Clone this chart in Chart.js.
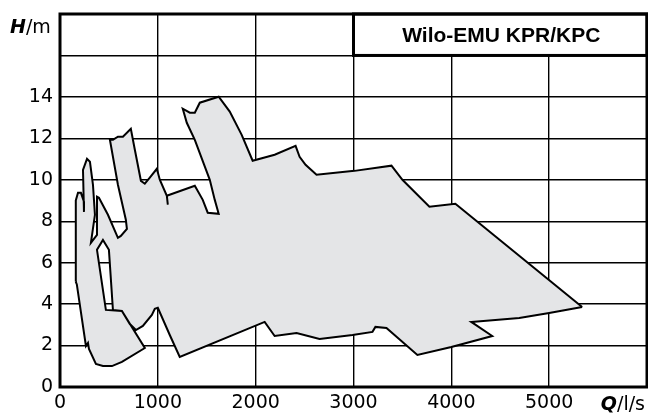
<!DOCTYPE html>
<html>
<head>
<meta charset="utf-8">
<script src="https://cdn.jsdelivr.net/npm/chart.js@4.4.1/dist/chart.umd.min.js"></script>
<style>
    html, body { margin: 0; padding: 0; background: #fff; }
    #wrap { width: 648px; height: 415px; }
</style>
</head>
<body>
<div id="wrap"><canvas id="kennlinie" width="648" height="415"></canvas></div>
<script>
// Datos (Q en l/s, H en m)
// Contorno superior, de izquierda a derecha
var upperQ = [160, 160, 163, 184, 214, 245, 245, 235, 276, 306, 337, 357, 316, 378, 378, 398, 490, 592, 622, 684,
    673, 592, 510, 541, 592, 643, 724, 765, 827, 867, 918, 990, 1020, 1092, 1102, 1092, 1235, 1378, 1459, 1510, 1622, 1582,
    1531, 1378, 1296, 1255, 1327, 1378, 1429, 1622, 1735, 1857, 1969, 2194, 2408, 2449, 2510, 2622, 3010, 3388,
    3500, 3776, 4041, 5337];
var upperH = [5.1, 7.5, 9.0, 9.37, 9.37, 8.94, 8.45, 10.48, 11.01, 10.87, 9.76, 8.31, 6.96, 7.34, 9.18, 9.13, 8.31, 7.2, 7.29, 7.63,
    8.07, 9.76, 11.93, 11.93, 12.08, 12.08, 12.46, 11.45, 9.95, 9.81, 10.1, 10.53, 10.0, 9.23, 8.8, 9.23, 9.47, 9.71, 9.03, 8.41, 8.36, 9.03,
    10.0, 11.93, 12.75, 13.43, 13.24, 13.24, 13.72, 14.01, 13.29, 12.17, 10.92, 11.21, 11.64, 11.11, 10.72, 10.24, 10.43, 10.68,
    10.0, 8.7, 8.84, 3.86];

// Contorno inferior, de izquierda a derecha (incluye la ranura blanca cerca de 400-550 l/s)
var lowerQ = [160, 172, 265, 286, 296, 367, 439, 531, 633, 867, 633, 469, 378, 439, 500, 541, 633, 714, 776, 847, 939, 969,
    1000, 1122, 1224, 2092, 2194, 2418, 2653, 2990, 3194, 3224, 3337, 3653, 4000, 4418, 4204, 4694, 5000, 5337];
var lowerH = [5.1, 4.95, 1.98, 2.13, 1.84, 1.11, 1.01, 1.01, 1.21, 1.88, 3.67, 3.72, 6.62, 7.1, 6.62, 3.72, 3.67, 3.04, 2.75, 2.95, 3.48, 3.77,
    3.82, 2.51, 1.45, 3.14, 2.46, 2.61, 2.32, 2.51, 2.66, 2.9, 2.85, 1.55, 1.93, 2.46, 3.14, 3.33, 3.57, 3.86];

// Ejes
var qTicks = [0, 1000, 2000, 3000, 4000, 5000];
var hTicks = [0, 2, 4, 6, 8, 10, 12, 14];
var qMax = 6000;
var hMax = 18;
var titulo = 'Wilo-EMU KPR/KPC';
var tituloDesdeQ = 3000;
var tituloHastaH = 16;

function puntos(qs, hs) {
    return qs.map(function (q, i) {
        return { x: q, y: hs[i] };
    });
}

// quitar el relleno automatico de las etiquetas para fijar el area del grafico
function sinPadding(s) {
    s.paddingTop = 0;
    s.paddingBottom = 0;
    s.paddingLeft = 0;
    s.paddingRight = 0;
}

// Marco, caja de titulo y nombres de ejes
var marcoPlugin = {
    id: 'marco',
    afterDraw: function (chart) {
        var ctx = chart.ctx;
        var a = chart.chartArea;
        var x = chart.scales.x;
        var y = chart.scales.y;
        ctx.save();

        var bx = x.getPixelForValue(tituloDesdeQ);
        var by = y.getPixelForValue(tituloHastaH);
        ctx.fillStyle = '#fff';
        ctx.fillRect(bx, a.top, a.right - bx, by - a.top);
        ctx.strokeStyle = '#000';
        ctx.lineWidth = 3;
        ctx.strokeRect(bx, a.top, a.right - bx, by - a.top);
        ctx.strokeRect(a.left, a.top, a.right - a.left, a.bottom - a.top);

        ctx.fillStyle = '#000';
        ctx.textAlign = 'center';
        ctx.textBaseline = 'middle';
        ctx.font = 'bold 21px "Liberation Sans"';
        ctx.fillText(titulo, (bx + a.right) / 2 + 1, (a.top + by) / 2 + 1);

        // H/m arriba a la izquierda
        ctx.textAlign = 'left';
        ctx.textBaseline = 'alphabetic';
        ctx.font = 'italic bold 19px "DejaVu Sans"';
        ctx.fillText('H', 10, 33);
        var w = ctx.measureText('H').width;
        ctx.font = '19px "DejaVu Sans"';
        ctx.fillText('/m', 10 + w, 33);

        // Q/l/s abajo a la derecha
        ctx.font = '19px "DejaVu Sans"';
        var w2 = ctx.measureText('/l/s').width;
        ctx.fillText('/l/s', 645 - w2, 410);
        ctx.font = 'italic bold 19px "DejaVu Sans"';
        var w3 = ctx.measureText('Q').width;
        ctx.fillText('Q', 645 - w2 - w3, 410);
        ctx.restore();
    }
};

var fuenteTicks = { family: 'DejaVu Sans', size: 19 };

new Chart(document.getElementById('kennlinie'), {
    type: 'scatter',
    data: {
        datasets: [{
            data: puntos(upperQ, upperH),
            showLine: true,
            fill: '+1',
            backgroundColor: '#e4e5e7',
            borderColor: '#000',
            borderWidth: 2,
            pointRadius: 0,
            tension: 0
        }, {
            data: puntos(lowerQ, lowerH),
            showLine: true,
            fill: false,
            borderColor: '#000',
            borderWidth: 2,
            pointRadius: 0,
            tension: 0
        }]
    },
    options: {
        responsive: false,
        animation: false,
        layout: { padding: { left: 0, right: 1, top: 14, bottom: 0 } },
        plugins: {
            legend: { display: false },
            tooltip: { enabled: false },
            // el relleno antes de todas las lineas, para que ningun borde quede tapado
            filler: { drawTime: 'beforeDatasetsDraw' }
        },
        scales: {
            x: {
                type: 'linear',
                min: 0,
                max: qMax,
                z: 1,
                afterFit: function (s) { s.height = 28; sinPadding(s); },
                afterBuildTicks: function (s) {
                    s.ticks = qTicks.concat([qMax]).map(function (v) { return { value: v }; });
                },
                grid: { color: '#000', lineWidth: 1.4, drawTicks: false },
                border: { display: false },
                ticks: {
                    color: '#000',
                    font: fuenteTicks,
                    padding: 5,
                    maxRotation: 0,
                    autoSkip: false,
                    callback: function (v) {
                        return qTicks.indexOf(v) >= 0 ? String(v) : '';
                    }
                }
            },
            y: {
                type: 'linear',
                min: 0,
                max: hMax,
                z: 1,
                afterFit: function (s) { s.width = 60; sinPadding(s); },
                afterBuildTicks: function (s) {
                    var t = [];
                    for (var v = 0; v <= hMax; v += 2) t.push({ value: v });
                    s.ticks = t;
                },
                grid: { color: '#000', lineWidth: 1.4, drawTicks: false },
                border: { display: false },
                ticks: {
                    color: '#000',
                    font: fuenteTicks,
                    padding: 7,
                    autoSkip: false,
                    callback: function (v) {
                        return hTicks.indexOf(v) >= 0 ? String(v) : '';
                    }
                }
            }
        }
    },
    plugins: [marcoPlugin]
});
</script>
</body>
</html>
